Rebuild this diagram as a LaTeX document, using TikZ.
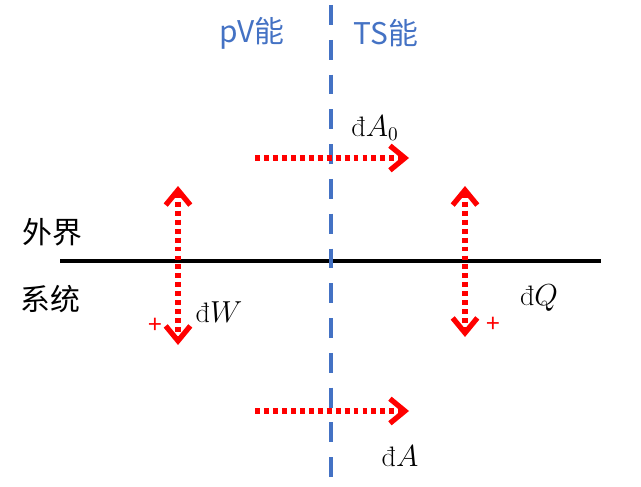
\documentclass[tikz,border=0pt]{standalone}
\usepackage{fontspec}
\newfontfamily\cjk{Noto Sans CJK SC}
\usetikzlibrary{arrows.meta}
\definecolor{splitblue}{HTML}{4472C4}
\tikzset{
  barb/.tip={Straight Barb[length=8.5pt, width=14pt, line width=3pt]},
  flow/.style={red, line width=2.9pt, dash pattern=on 2.8pt off 2.3pt, -barb},
  bothflow/.style={flow, barb-barb},
  difflabel/.style={font=\fontsize{16}{18}\selectfont},
  sidelabel/.style={font=\cjk\fontsize{17}{20}\selectfont},
  sign/.style={red, font=\cjk\fontsize{14}{16}\selectfont}
}
\begin{document}
\begin{tikzpicture}[x=0.02cm, y=-0.02cm]
    \useasboundingbox (0,0) rectangle (641,486);
    % Boundary between system and surroundings
    \coordinate (wallL) at (60,261);
    \coordinate (wallR) at (601,261);
    \draw[line width=2.3pt] (wallL) -- (wallR);
    % Split between pV and TS energy
    \coordinate (splitT) at (331,5);
    \coordinate (splitB) at (331,486);
    \draw[splitblue, line width=2.3pt, dash pattern=on 11.3pt off 8.5pt] (splitT) -- (splitB);
    \node[sidelabel, splitblue] (pv) at (252,33) {pV能};
    \node[sidelabel, splitblue] (ts) at (386,33) {TS能};
    \node[sidelabel] (outside) at (52,232) {外界};
    \node[sidelabel] (inside) at (50,299) {系统};
    % Horizontal flows
    \foreach \n/\y in {top/158, bot/411} {
        \coordinate (\n A) at (255,\y);
        \coordinate (\n B) at (409,\y);
        \draw[flow] (\n A) -- (\n B);
    }
    % Vertical flows
    \foreach \n/\x/\yb in {work/178/345, heat/465/337} {
        \coordinate (\n A) at (\x,186);
        \coordinate (\n B) at (\x,\yb);
        \draw[bothflow] (\n A) -- (\n B);
    }
    \node[difflabel] (dA0) at (375,128) {đ$A_0$};
    \node[difflabel] (dA) at (400,456) {đ$A$};
    \node[difflabel] (dW) at (219,312) {đ$W$};
    \node[difflabel] (dQ) at (539,298) {đ$Q$};
    \node[sign] (plusW) at (155,326) {+};
    \node[sign] (plusQ) at (493,325) {+};
\end{tikzpicture}
\end{document}
